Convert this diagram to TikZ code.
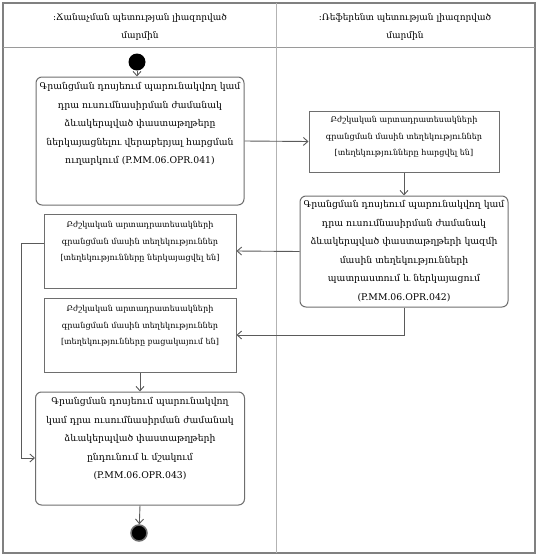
\documentclass[tikz,border=0pt]{standalone}
\usepackage{fontspec}
\setmainfont{DejaVu Serif}
\usetikzlibrary{arrows.meta}
\definecolor{frame}{HTML}{808080}
\definecolor{boxc}{HTML}{6E6E6E}
\definecolor{linec}{HTML}{5A5A5A}
\tikzset{
  actbox/.style={draw=boxc, line width=1pt, rounded corners=6pt, inner sep=0pt, fill=white},
  objbox/.style={draw=boxc, line width=1pt, inner sep=0pt, fill=white},
  bigtxt/.style={align=center, inner sep=0pt, anchor=north, font=\fontsize{9.3}{18.5}\selectfont},
  smalltxt/.style={align=center, inner sep=0pt, anchor=north, font=\fontsize{8.1}{16.5}\selectfont},
  hdr/.style={align=center, inner sep=0pt, font=\fontsize{9}{18}\selectfont},
  flow/.style={draw=linec, line width=0.9pt, -{Straight Barb[length=4.5pt,width=8pt]}},
}
\begin{document}
\begin{tikzpicture}[x=1pt,y=-1pt]
\useasboundingbox (0,0) rectangle (538,560);
% frame and lanes
\draw[frame, line width=2pt] (3,3) rectangle (535,553);
\draw[frame!80, line width=1pt] (3,47) -- (535,47);
\draw[frame!60, line width=1pt] (276,3) -- (276,553);
\node[hdr] (h1) at (140,27) {:Ճանաչման պետության լիազորված\\մարմին};
\node[hdr] (h2) at (405,27) {:Ռեֆերենտ պետության լիազորված\\մարմին};

% start
\node[circle, fill=black, minimum size=17pt, inner sep=0pt] (start) at (137,62) {};

% boxes
\node[actbox, minimum width=208pt, minimum height=128pt] (a1) at (140,141) {};
\node[bigtxt] (a1t) at ([yshift=-6pt]a1.north) {Գրանցման դոսյեում պարունակվող կամ\\դրա ուսումնասիրման ժամանակ\\ձևակերպված փաստաթղթերը\\ներկայացնելու վերաբերյալ հարցման\\ուղարկում (P.MM.06.OPR.041)};

\node[objbox, minimum width=190pt, minimum height=61pt] (r1) at (404,141.5) {};
\node[smalltxt] (r1t) at ([yshift=-6pt]r1.north) {Բժշկական արտադրատեսակների\\գրանցման մասին տեղեկություններ\\{}[տեղեկությունները հարցվել են]};

\node[actbox, minimum width=208pt, minimum height=111pt] (r2) at (404,251.5) {};
\node[bigtxt] (r2t) at ([yshift=-5pt]r2.north) {Գրանցման դոսյեում պարունակվող կամ\\դրա ուսումնասիրման ժամանակ\\ձևակերպված փաստաթղթերի կազմի\\մասին տեղեկությունների\\պատրաստում և ներկայացում\\(P.MM.06.OPR.042)};

\node[objbox, minimum width=192pt, minimum height=74pt] (l2) at (140,251) {};
\node[smalltxt] (l2t) at ([yshift=-8pt]l2.north) {Բժշկական արտադրատեսակների\\գրանցման մասին տեղեկություններ\\{}[տեղեկությունները ներկայացվել են]};

\node[objbox, minimum width=192pt, minimum height=74pt] (l3) at (140,335) {};
\node[smalltxt] (l3t) at ([yshift=-8pt]l3.north) {Բժշկական արտադրատեսակների\\գրանցման մասին տեղեկություններ\\{}[տեղեկությունները բացակայում են]};

\node[actbox, minimum width=209pt, minimum height=113pt] (a4) at (140,448.5) {};
\node[bigtxt] (a4t) at ([yshift=-6pt]a4.north) {Գրանցման դոսյեում պարունակվող\\կամ դրա ուսումնասիրման ժամանակ\\ձևակերպված փաստաթղթերի\\ընդունում և մշակում\\(P.MM.06.OPR.043)};

% end
\node[circle, draw=boxc, line width=1.5pt, fill=black, minimum size=16pt, inner sep=0pt] (end) at (139,533) {};

% connectors
\coordinate (j0) at (21,243);
\coordinate (j1) at (21,458);
\draw[flow] (start) -- (start |- a1.north);
\draw[flow] (a1.east) -- (r1.west);
\draw[flow] (r1.south) -- (r2.north);
\draw[flow] (r2.west) -- (l2.east);
\draw[flow] (r2.south) |- (l3.east);
\draw[flow] (j0 -| l2.west) -- (j0) -- (j1) -- (j1 -| a4.west);
\draw[flow] (l3.south) -- (a4.north);
\draw[flow] (a4.south) -- (end);
\end{tikzpicture}
\end{document}
